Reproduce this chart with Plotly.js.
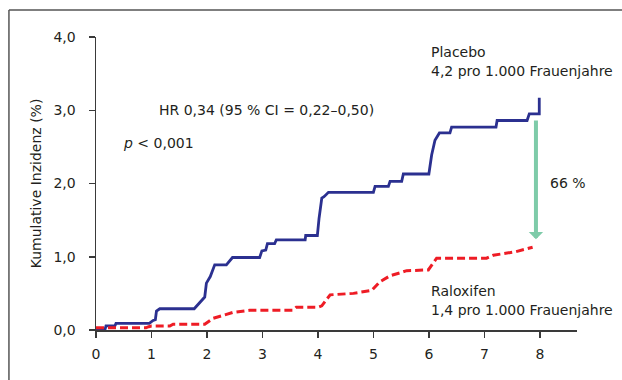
<!DOCTYPE html>
<html>
<head>
<meta charset="utf-8">
<script src="https://cdn.plot.ly/plotly-3.0.1.min.js"></script>
<style>html,body{margin:0;padding:0;background:#fff;}#chart{width:622px;height:380px;}</style>
</head>
<body>
<div id="chart"></div>
<script>
// Placebo (blue, solid) – cumulative incidence (%) vs years
const placeboYears = [0,0.16,0.18,0.34,0.36,0.96,1.03,1.07,1.09,1.15,1.77,1.90,1.96,1.99,2.06,2.14,2.35,2.46,2.95,2.99,3.06,3.09,3.22,3.25,3.77,3.78,3.99,4.02,4.07,4.11,4.19,5.00,5.03,5.27,5.30,5.51,5.54,6.00,6.05,6.11,6.19,6.38,6.41,7.21,7.23,7.77,7.81,7.99,7.99];
const placeboIncidence = [0,0,0.055,0.055,0.09,0.09,0.13,0.14,0.26,0.29,0.29,0.40,0.45,0.64,0.73,0.89,0.89,0.99,0.99,1.08,1.09,1.18,1.18,1.23,1.23,1.29,1.29,1.52,1.80,1.82,1.88,1.88,1.96,1.96,2.03,2.03,2.13,2.13,2.39,2.59,2.69,2.69,2.77,2.77,2.86,2.86,2.95,2.95,3.17];
// Raloxifen (red, dashed)
const raloxYears = [0,0.90,0.95,1.00,1.33,1.39,1.96,2.11,2.29,2.47,2.77,3.55,3.61,4.00,4.07,4.22,4.64,4.97,5.12,5.30,5.48,5.60,5.99,6.14,7.04,7.16,7.57,7.87];
const raloxIncidence = [0.03,0.03,0.045,0.055,0.055,0.08,0.08,0.16,0.20,0.24,0.27,0.27,0.31,0.31,0.33,0.48,0.50,0.54,0.66,0.74,0.78,0.81,0.82,0.98,0.98,1.02,1.07,1.13];
// Reduction arrow (years, from / to incidence)
const arrowYear = 7.93;
const arrowFrom = 2.88;
const arrowTo = 1.24;
// Ticks
const xTickVals = [0,1,2,3,4,5,6,7,8];
const xTickText = ["0","1","2","3","4","5","6","7","8"];
const yTickVals = [0,1,2,3,4];
const yTickText = ["0,0","1,0","2,0","3,0","4,0"];

const FONT = "DejaVu Sans, Liberation Sans, Arial, sans-serif";
const TXT = "#231f20";
const AX = "#3a3a3a";

const traces = [
  {x: placeboYears, y: placeboIncidence, type: "scatter", mode: "lines", name: "Placebo",
   line: {color: "#2b3090", width: 2.8, shape: "linear"}, hoverinfo: "skip"},
  {x: raloxYears, y: raloxIncidence, type: "scatter", mode: "lines", name: "Raloxifen",
   line: {color: "#ee1c25", width: 3, dash: "8px,4px", shape: "linear"}, hoverinfo: "skip"}
];

function txt(text, x, y, opts) {
  return Object.assign({text: text, x: x, y: y, xref: "x", yref: "y", showarrow: false,
    xanchor: "left", yanchor: "middle", font: {family: FONT, size: 14, color: TXT}}, opts || {});
}

const layout = {
  width: 622, height: 380,
  margin: {l: 96, r: 45, t: 37, b: 50},
  paper_bgcolor: "#fff", plot_bgcolor: "#fff",
  showlegend: false,
  font: {family: FONT, size: 14, color: TXT},
  xaxis: {range: [0, 8.67], tickvals: xTickVals, ticktext: xTickText,
    showline: true, linecolor: AX, linewidth: 1.5, ticks: "outside", ticklen: 6, tickwidth: 1.5,
    tickcolor: AX, showgrid: false, zeroline: false, ticklabelstandoff: 5,
    tickfont: {family: FONT, size: 14, color: TXT}, fixedrange: true},
  yaxis: {range: [0, 4], tickvals: yTickVals, ticktext: yTickText,
    showline: true, linecolor: AX, linewidth: 1.5, ticks: "outside", ticklen: 6, tickwidth: 1.5,
    tickcolor: AX, showgrid: false, zeroline: false, ticklabelstandoff: 10,
    tickfont: {family: FONT, size: 14, color: TXT}, fixedrange: true,
    title: {text: "Kumulative Inzidenz (%)", font: {family: FONT, size: 14, color: TXT}, standoff: 8}},
  shapes: [
    {type: "line", xref: "paper", yref: "paper", x0: -0.181, x1: -0.181, y0: -0.2, y1: 1.0922,
     line: {color: "#555", width: 1.5}},
    {type: "line", xref: "paper", yref: "paper", x0: -0.181, x1: 1.1, y0: 1.0922, y1: 1.0922,
     line: {color: "#555", width: 1.5}}
  ],
  annotations: [
    txt("Placebo", 6.0, 3.795),
    txt("4,2 pro 1.000 Frauenjahre", 6.0, 3.536),
    txt("HR 0,34 (95 % CI = 0,22–0,50)", 1.10, 3.003),
    txt("<i>p</i> < 0,001", 0.45, 2.553),
    txt("66 %", 8.14, 2.007),
    txt("Raloxifen", 6.0, 0.532),
    txt("1,4 pro 1.000 Frauenjahre", 6.0, 0.273),
    txt("Jahre", 8.65, -0.33),
    {x: arrowYear, y: arrowTo, ax: arrowYear, ay: arrowFrom, xref: "x", yref: "y", axref: "x", ayref: "y",
     showarrow: true, arrowhead: 1, arrowsize: 0.6, arrowwidth: 4, arrowcolor: "#7ecba9", text: ""}
  ]
};

Plotly.newPlot("chart", traces, layout, {displayModeBar: false, staticPlot: true});
</script>
</body>
</html>
